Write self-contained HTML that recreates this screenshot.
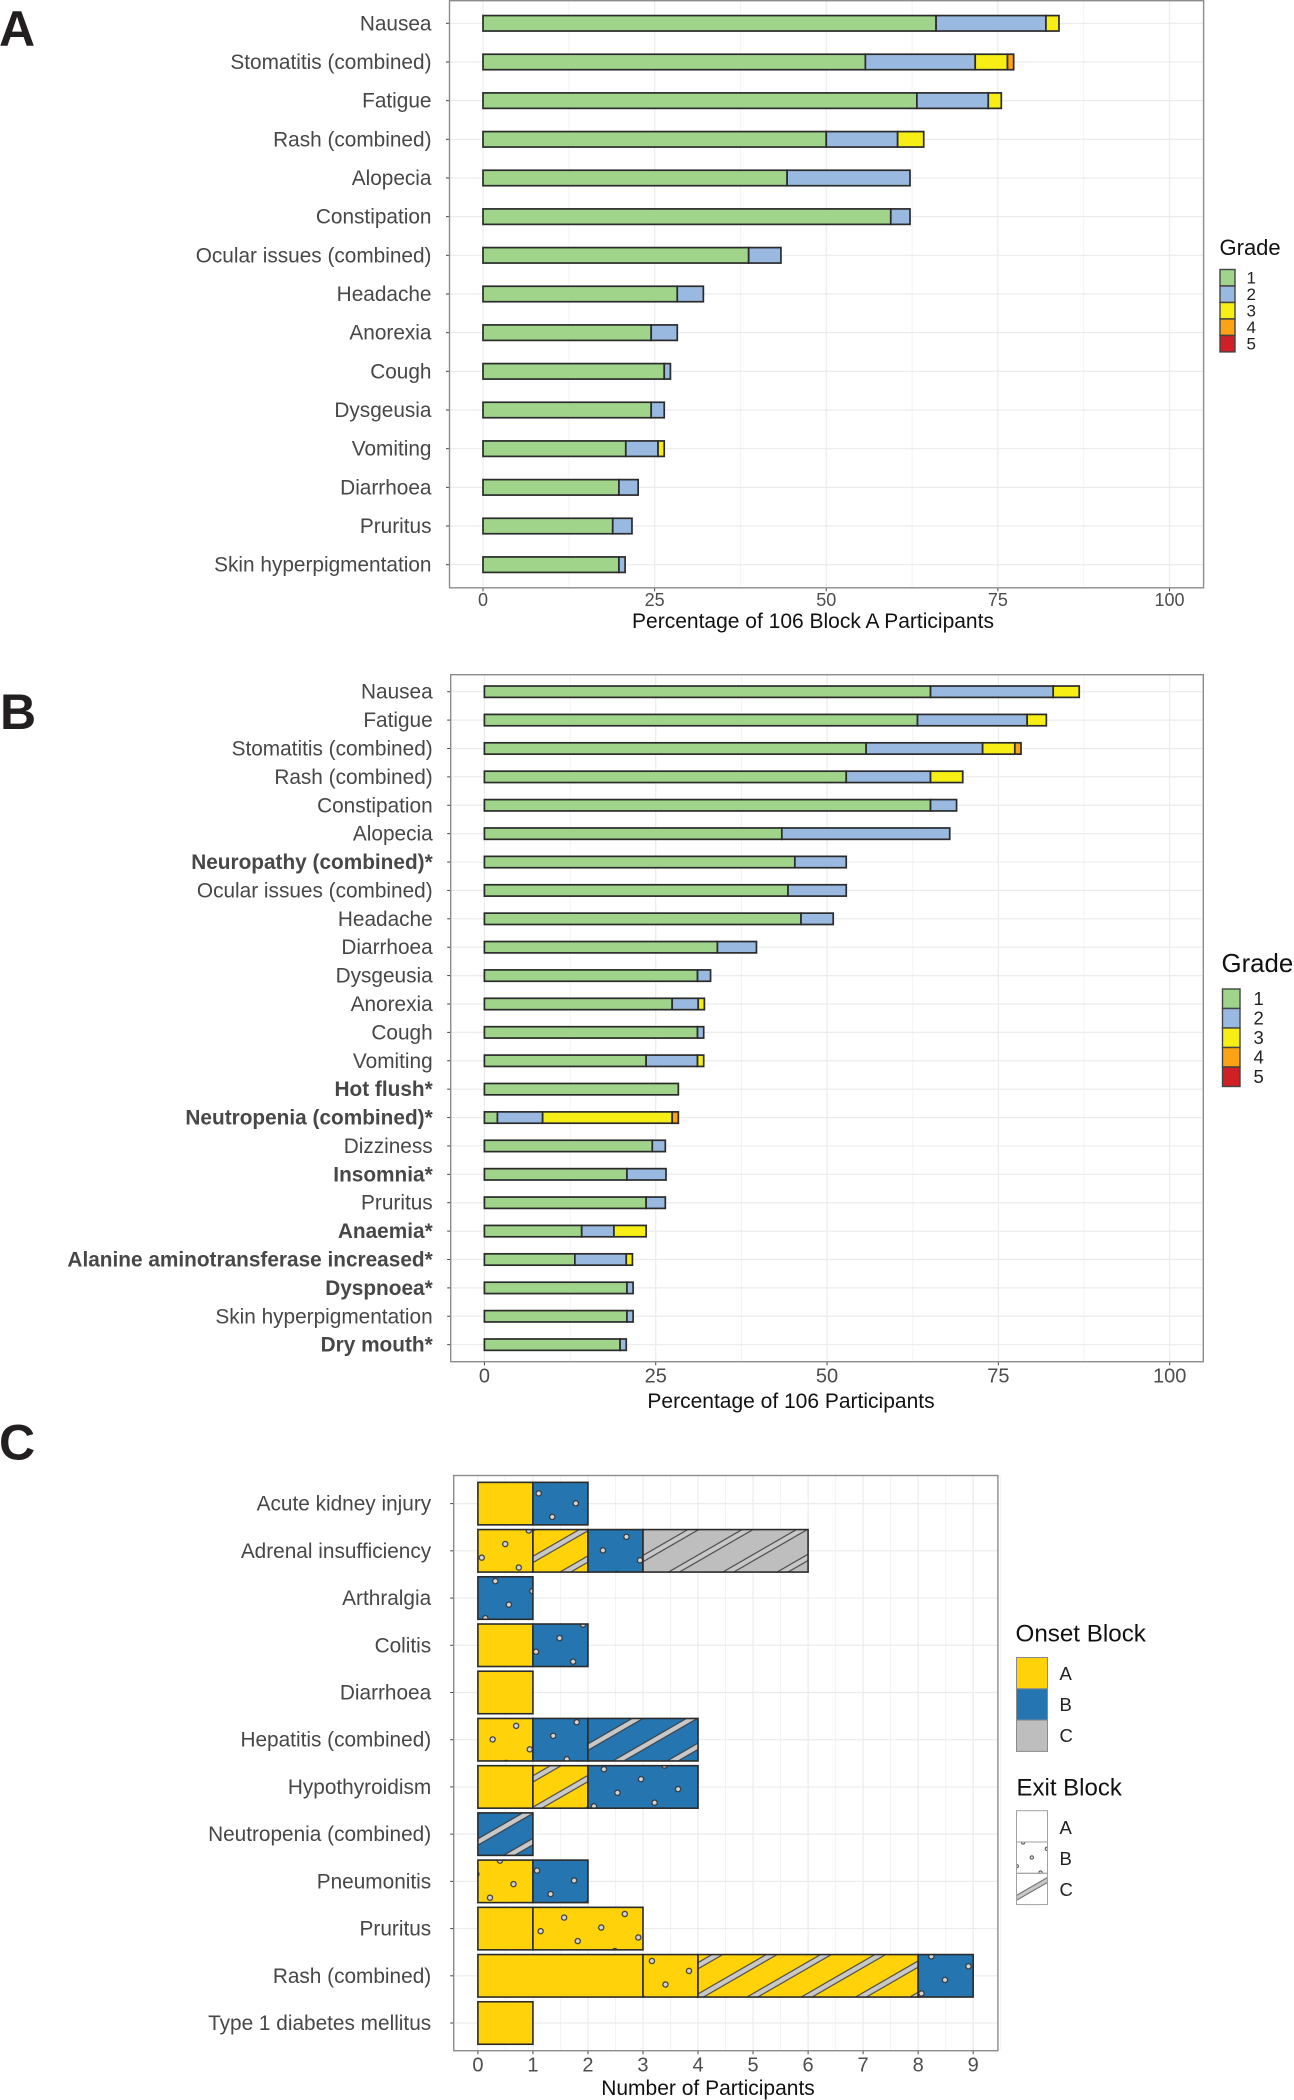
<!DOCTYPE html>
<html lang="en">
<head>
<meta charset="utf-8">
<title>Adverse events by grade and participant block</title>
<style>
  html, body { margin: 0; padding: 0; background: #fff; }
  body { width: 1294px; height: 2100px; overflow: hidden; }
  svg { display: block; font-family: "Liberation Sans", sans-serif; }
  .panel-letter { font-weight: 700; font-size: 50px; fill: #231f20; }
  .axis-title { font-size: 21px; fill: #111; }
  .legend-title { fill: #111; }
  .legend-label { fill: #222; }
</style>
</head>
<body>
<svg id="chart" width="1294" height="2100" viewBox="0 0 1294 2100" xmlns="http://www.w3.org/2000/svg">
  <defs>
    <pattern id="dot-pattern" patternUnits="userSpaceOnUse" width="27.15" height="27.15" patternTransform="translate(538.7 1493.4) rotate(-30)">
      <circle cx="0" cy="0" r="2.6" fill="#d4d4d4" stroke="#333" stroke-width="1.2"/>
      <circle cx="27.15" cy="0" r="2.6" fill="#d4d4d4" stroke="#333" stroke-width="1.2"/>
      <circle cx="0" cy="27.15" r="2.6" fill="#d4d4d4" stroke="#333" stroke-width="1.2"/>
      <circle cx="27.15" cy="27.15" r="2.6" fill="#d4d4d4" stroke="#333" stroke-width="1.2"/>
    </pattern>
    <pattern id="stripe-pattern" patternUnits="userSpaceOnUse" width="27.15" height="27.15" patternTransform="translate(538.7 1493.4) rotate(-30)">
      <rect x="0" y="0" width="27.15" height="2.7" fill="#c8c8c8"/>
      <rect x="0" y="24.45" width="27.15" height="2.7" fill="#c8c8c8"/>
      <line x1="0" y1="2.7" x2="27.15" y2="2.7" stroke="#333" stroke-width="1"/>
      <line x1="0" y1="24.45" x2="27.15" y2="24.45" stroke="#333" stroke-width="1"/>
    </pattern>
    <pattern id="legend-dot-pattern" patternUnits="userSpaceOnUse" width="17.4" height="17.4" patternTransform="translate(1031.8 1857.5) rotate(-30)">
      <circle cx="0" cy="0" r="1.7" fill="#e6e6e6" stroke="#333" stroke-width="0.9"/>
      <circle cx="17.4" cy="0" r="1.7" fill="#e6e6e6" stroke="#333" stroke-width="0.9"/>
      <circle cx="0" cy="17.4" r="1.7" fill="#e6e6e6" stroke="#333" stroke-width="0.9"/>
      <circle cx="17.4" cy="17.4" r="1.7" fill="#e6e6e6" stroke="#333" stroke-width="0.9"/>
    </pattern>
    <pattern id="legend-stripe-pattern" patternUnits="userSpaceOnUse" width="24" height="24" patternTransform="translate(1031.8 1889) rotate(-30)">
      <rect x="0" y="0" width="24" height="2.2" fill="#c8c8c8"/>
      <rect x="0" y="21.8" width="24" height="2.2" fill="#c8c8c8"/>
      <line x1="0" y1="2.2" x2="24" y2="2.2" stroke="#555" stroke-width="0.8"/>
      <line x1="0" y1="21.8" x2="24" y2="21.8" stroke="#555" stroke-width="0.8"/>
    </pattern>
  </defs>

  <text class="panel-letter" x="-1" y="46">A</text>
  <text class="panel-letter" x="0" y="729">B</text>
  <text class="panel-letter" x="-1" y="1459.5">C</text>

  <g id="panel-a"></g>
  <g id="panel-b"></g>
  <g id="panel-c"></g>

  <text class="axis-title" x="813" y="628" text-anchor="middle">Percentage of 106 Block A Participants</text>
  <text class="axis-title" x="791" y="1408" text-anchor="middle">Percentage of 106 Participants</text>
  <text class="axis-title" x="708" y="2095" text-anchor="middle">Number of Participants</text>

  <g>
    <text class="legend-title" x="1219.5" y="255" font-size="22">Grade</text>
    <g stroke="#444" stroke-width="1.4">
      <rect x="1220" y="269.5" width="15" height="16.4" fill="#9fd48a"/>
      <rect x="1220" y="286" width="15" height="16.4" fill="#9ab9e0"/>
      <rect x="1220" y="302.5" width="15" height="16.4" fill="#f6ee14"/>
      <rect x="1220" y="319" width="15" height="16.4" fill="#fca315"/>
      <rect x="1220" y="335.5" width="15" height="16.4" fill="#d11f26"/>
    </g>
    <g class="legend-label" font-size="17">
      <text x="1246.5" y="283.5">1</text>
      <text x="1246.5" y="300">2</text>
      <text x="1246.5" y="316.5">3</text>
      <text x="1246.5" y="333">4</text>
      <text x="1246.5" y="349.5">5</text>
    </g>
  </g>

  <g>
    <text class="legend-title" x="1221.5" y="972" font-size="25.8">Grade</text>
    <g stroke="#444" stroke-width="1.4">
      <rect x="1222.5" y="989" width="17.5" height="19.5" fill="#9fd48a"/>
      <rect x="1222.5" y="1008.5" width="17.5" height="19.5" fill="#9ab9e0"/>
      <rect x="1222.5" y="1028" width="17.5" height="19.5" fill="#f6ee14"/>
      <rect x="1222.5" y="1047.5" width="17.5" height="19.5" fill="#fca315"/>
      <rect x="1222.5" y="1067" width="17.5" height="19.5" fill="#d11f26"/>
    </g>
    <g class="legend-label" font-size="18.5">
      <text x="1253.5" y="1005">1</text>
      <text x="1253.5" y="1024.5">2</text>
      <text x="1253.5" y="1044">3</text>
      <text x="1253.5" y="1063.5">4</text>
      <text x="1253.5" y="1083">5</text>
    </g>
  </g>

  <g>
    <text class="legend-title" x="1015.5" y="1641.5" font-size="24.2">Onset Block</text>
    <g stroke="#8a8a8a" stroke-width="1">
      <rect x="1016.5" y="1657.5" width="31" height="31.3" fill="#ffd20a"/>
      <rect x="1016.5" y="1688.8" width="31" height="31.3" fill="#2475b0"/>
      <rect x="1016.5" y="1720.1" width="31" height="31.3" fill="#bebebe"/>
    </g>
    <g class="legend-label" font-size="18.5">
      <text x="1059.5" y="1680">A</text>
      <text x="1059.5" y="1711">B</text>
      <text x="1059.5" y="1742">C</text>
    </g>
  </g>

  <g>
    <text class="legend-title" x="1016.5" y="1795.5" font-size="24">Exit Block</text>
    <rect x="1016.5" y="1810.7" width="31" height="31.3" fill="#fff" stroke="#a0a0a0" stroke-width="1"/>
    <rect x="1016.5" y="1842" width="31" height="31.3" fill="url(#legend-dot-pattern)" stroke="#a0a0a0" stroke-width="1"/>
    <rect x="1016.5" y="1873.3" width="31" height="31.3" fill="url(#legend-stripe-pattern)" stroke="#a0a0a0" stroke-width="1"/>
    <g class="legend-label" font-size="18.5">
      <text x="1059.5" y="1834">A</text>
      <text x="1059.5" y="1865">B</text>
      <text x="1059.5" y="1896">C</text>
    </g>
  </g>
</svg>

<script>
// ---------- Panel A data (percentage of 106 Block A participants, per grade) ----------
const aCategories = ["Nausea","Stomatitis (combined)","Fatigue","Rash (combined)","Alopecia","Constipation","Ocular issues (combined)","Headache","Anorexia","Cough","Dysgeusia","Vomiting","Diarrhoea","Pruritus","Skin hyperpigmentation"];
const aGrade1 = [66.0,55.7,63.2,50.0,44.3,59.4,38.7,28.3,24.5,26.4,24.5,20.8,19.8,18.9,19.8];
const aGrade2 = [16.0,16.0,10.4,10.4,17.9,2.8,4.7,3.8,3.8,0.9,1.9,4.7,2.8,2.8,0.9];
const aGrade3 = [1.9,4.7,1.9,3.8,0,0,0,0,0,0,0,0.9,0,0,0];
const aGrade4 = [0,0.9,0,0,0,0,0,0,0,0,0,0,0,0,0];

// ---------- Panel B data (percentage of 106 participants, per grade) ----------
const bCategories = ["Nausea","Fatigue","Stomatitis (combined)","Rash (combined)","Constipation","Alopecia","Neuropathy (combined)*","Ocular issues (combined)","Headache","Diarrhoea","Dysgeusia","Anorexia","Cough","Vomiting","Hot flush*","Neutropenia (combined)*","Dizziness","Insomnia*","Pruritus","Anaemia*","Alanine aminotransferase increased*","Dyspnoea*","Skin hyperpigmentation","Dry mouth*"];
const bGrade1 = [65.1,63.2,55.7,52.8,65.1,43.4,45.3,44.3,46.2,34.0,31.1,27.4,31.1,23.6,28.3,1.9,24.5,20.8,23.6,14.2,13.2,20.8,20.8,19.8];
const bGrade2 = [17.9,16.0,17.0,12.3,3.8,24.5,7.5,8.5,4.7,5.7,1.9,3.8,0.9,7.5,0,6.6,1.9,5.7,2.8,4.7,7.5,0.9,0.9,0.9];
const bGrade3 = [3.8,2.8,4.7,4.7,0,0,0,0,0,0,0,0.9,0,0.9,0,18.9,0,0,0,4.7,0.9,0,0,0];
const bGrade4 = [0,0,0.9,0,0,0,0,0,0,0,0,0,0,0,0,0.9,0,0,0,0,0,0,0,0];

const percentTicks = [0,25,50,75,100];

// ---------- Panel C data (participants per row, stacked in listed order) ----------
const cCategories = ["Acute kidney injury","Adrenal insufficiency","Arthralgia","Colitis","Diarrhoea","Hepatitis (combined)","Hypothyroidism","Neutropenia (combined)","Pneumonitis","Pruritus","Rash (combined)","Type 1 diabetes mellitus"];
const cSegmentCategory = [0,0,1,1,1,1,2,3,3,4,5,5,5,6,6,6,7,8,8,9,9,10,10,10,10,11];
const cSegmentOnset = ["A","B","A","A","B","C","B","A","B","A","A","B","B","A","A","B","B","A","B","A","A","A","A","A","B","A"];
const cSegmentExit = ["A","B","B","C","B","C","B","A","B","A","B","B","C","A","C","B","C","B","B","A","B","A","B","C","B","A"];
const cSegmentCount = [1,1,1,1,1,3,1,1,1,1,1,1,2,1,1,2,1,1,1,1,2,3,1,4,1,1];
const countTicks = [0,1,2,3,4,5,6,7,8,9];

const gradeColors = ["#9fd48a","#9ab9e0","#f6ee14","#fca315"];
const onsetColors = { A: "#ffd20a", B: "#2475b0", C: "#bebebe" };
const exitPatterns = { B: "url(#dot-pattern)", C: "url(#stripe-pattern)" };

const SVG_NS = "http://www.w3.org/2000/svg";
function make(tag, attrs, parent) {
  const node = document.createElementNS(SVG_NS, tag);
  for (const key in attrs) node.setAttribute(key, attrs[key]);
  parent.appendChild(node);
  return node;
}

function drawFrame(parent, box, xScale, yScale, categories, xTicks, xMinors, opts) {
  const yMinus = box.bottom;
  xMinors.forEach(function (v) {
    const minor = make("line", { x1: xScale(v), x2: xScale(v), y1: box.top, y2: box.bottom, stroke: "#f3f3f3", "stroke-width": 1 }, parent);
    
    
  });
  xTicks.forEach(function (v) {
    const major = make("line", { x1: xScale(v), x2: xScale(v), y1: box.top, y2: box.bottom, stroke: "#ececec", "stroke-width": 1.2 }, parent);
    
    
  });
  categories.forEach(function (name, i) {
    const row = make("line", { x1: box.left, x2: box.right, y1: yScale(i), y2: yScale(i), stroke: "#ececec", "stroke-width": 1.2 }, parent);
    
    
    const tick = make("line", { x1: box.left - 3.5, x2: box.left, y1: yScale(i), y2: yScale(i), stroke: "#444", "stroke-width": 1 }, parent);
    
    
    const label = make("text", { x: box.left - opts.labelGap, y: yScale(i) + 7, "text-anchor": "end", "font-size": 20.8, fill: "#474747" }, parent);
    
    
    if (name.slice(-1) === "*") label.setAttribute("font-weight", "700");
    label.textContent = name;
  });
  xTicks.forEach(function (v) {
    const tick = make("line", { x1: xScale(v), x2: xScale(v), y1: yMinus, y2: yMinus + 3.5, stroke: "#444", "stroke-width": 1 }, parent);
    
    
    const label = make("text", { x: xScale(v), y: opts.tickBaseline, "text-anchor": "middle", "font-size": opts.tickSize, fill: "#4d4d4d" }, parent);
    
    
    label.textContent = v;
  });
}

function drawBorder(parent, box) {
  const border = make("rect", { x: box.left, y: box.top, width: box.right - box.left, height: box.bottom - box.top, fill: "none", stroke: "#8c8c8c", "stroke-width": 1.4 }, parent);
  
  
}

function drawGradePanel(parent, box, x0, pxPerUnit, y0, rowStep, categories, grades, opts) {
  const xScale = function (v) { return x0 + v * pxPerUnit; };
  const yScale = function (i) { return y0 + i * rowStep; };
  const minors = percentTicks.slice(0, -1).map(function (v) { return v + 12.5; });
  drawFrame(parent, box, xScale, yScale, categories, percentTicks, minors, opts);
  const barH = rowStep * 0.4;
  categories.forEach(function (name, i) {
    let cum = 0;
    grades.forEach(function (series, g) {
      const value = series[i];
      if (!value) return;
      const bar = make("rect", {
        x: xScale(cum), y: yScale(i) - barH / 2,
        width: xScale(cum + value) - xScale(cum), height: barH,
        fill: gradeColors[g], stroke: "#2b2b2b", "stroke-width": 1.7
      }, parent);
      
      
      cum += value;
    });
  });
  drawBorder(parent, box);
}

drawGradePanel(document.getElementById("panel-a"),
  { left: 449.5, right: 1203.6, top: 0.7, bottom: 587.8 },
  483, 6.865, 23.3, 38.67, aCategories, [aGrade1, aGrade2, aGrade3, aGrade4],
  { tickBaseline: 606, tickSize: 18, labelGap: 18 });

drawGradePanel(document.getElementById("panel-b"),
  { left: 450.7, right: 1203.3, top: 674.7, bottom: 1361.7 },
  484.4, 6.853, 691.7, 28.39, bCategories, [bGrade1, bGrade2, bGrade3, bGrade4],
  { tickBaseline: 1382.5, tickSize: 20, labelGap: 18 });

(function drawOnsetPanel() {
  const parent = document.getElementById("panel-c");
  const box = { left: 453.7, right: 997.9, top: 1475.5, bottom: 2050.7 };
  const xScale = function (v) { return 477.9 + v * 55.03; };
  const yScale = function (i) { return 1503.6 + i * 47.22; };
  const minors = countTicks.map(function (v) { return v + 0.5; });
  drawFrame(parent, box, xScale, yScale, cCategories, countTicks, minors, { tickBaseline: 2071.5, tickSize: 20, labelGap: 22.5 });
  const barH = 47.22 * 0.9;
  const stacked = cCategories.map(function () { return 0; });
  cSegmentCount.forEach(function (count, s) {
    const row = cSegmentCategory[s];
    const x = xScale(stacked[row]);
    const w = xScale(stacked[row] + count) - x;
    const y = yScale(row) - barH / 2;
    stacked[row] += count;
    const fill = make("rect", { x: x, y: y, width: w, height: barH, fill: onsetColors[cSegmentOnset[s]] }, parent);
    
    
    const pattern = exitPatterns[cSegmentExit[s]];
    if (pattern) {
      const overlay = make("rect", { x: x, y: y, width: w, height: barH, fill: pattern }, parent);
      
      
    }
    const outline = make("rect", { x: x, y: y, width: w, height: barH, fill: "none", stroke: "#2b2b2b", "stroke-width": 1.6 }, parent);
    
    
  });
  drawBorder(parent, box);
})();
</script>
</body>
</html>
